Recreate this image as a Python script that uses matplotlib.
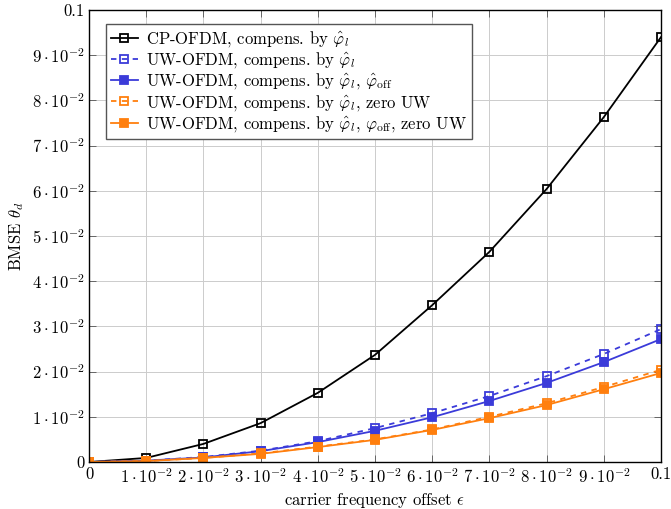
import matplotlib
matplotlib.use("Agg")
import matplotlib.pyplot as plt

plt.rcParams["font.family"] = "serif"
plt.rcParams["font.serif"] = ["cmr10", "DejaVu Serif"]
plt.rcParams["mathtext.fontset"] = "cm"
plt.rcParams["axes.formatter.use_mathtext"] = True

eps = [0.0, 0.01, 0.02, 0.03, 0.04, 0.05, 0.06, 0.07, 0.08, 0.09, 0.1]
cp_ofdm = [0.0, 0.0009, 0.0040, 0.0086, 0.0153, 0.0237, 0.0347, 0.0465, 0.0604, 0.0763, 0.0940]
uw_phi = [0.0, 0.0003, 0.0011, 0.0025, 0.0046, 0.0075, 0.0108, 0.0146, 0.0190, 0.0239, 0.0294]
uw_phi_off = [0.0, 0.0003, 0.0010, 0.0024, 0.0044, 0.0069, 0.0099, 0.0135, 0.0175, 0.0221, 0.0272]
uw_phi_zero = [0.0, 0.0002, 0.0009, 0.0019, 0.0034, 0.0050, 0.0072, 0.0100, 0.0130, 0.0166, 0.0204]
uw_phi_off_zero = [0.0, 0.0002, 0.0009, 0.0018, 0.0033, 0.0049, 0.0071, 0.0097, 0.0126, 0.0161, 0.0197]

labels = [
    r"CP-OFDM, compens. by $\hat{\varphi}_l$",
    r"UW-OFDM, compens. by $\hat{\varphi}_l$",
    r"UW-OFDM, compens. by $\hat{\varphi}_l$, $\hat{\varphi}_{\mathrm{off}}$",
    r"UW-OFDM, compens. by $\hat{\varphi}_l$, zero UW",
    r"UW-OFDM, compens. by $\hat{\varphi}_l$, $\varphi_{\mathrm{off}}$, zero UW",
]
ticks = [0.0, 0.01, 0.02, 0.03, 0.04, 0.05, 0.06, 0.07, 0.08, 0.09, 0.1]
tick_labels = ["0"] + [r"$%d\cdot10^{-2}$" % k for k in range(1, 10)] + ["0.1"]

blue = "#3b3bd9"
orange = "#ff7f0e"

fig = plt.figure(figsize=(6.71, 5.09), dpi=100)
ax = fig.add_axes([89 / 671, 1 - 462 / 509, 572 / 671, 452 / 509])

ms = 5.5
lw = 1.3
ax.plot(eps, cp_ofdm, color="black", lw=lw, marker="s", ms=ms, mfc="none", mew=1.3, label=labels[0])
ax.plot(eps, uw_phi, color=blue, lw=lw, ls=(0, (3, 3)), marker="s", ms=ms, mfc="none", mew=1.3, label=labels[1])
ax.plot(eps, uw_phi_off, color=blue, lw=lw, marker="s", ms=ms, mfc=blue, mew=1.3, label=labels[2])
ax.plot(eps, uw_phi_zero, color=orange, lw=lw, ls=(0, (3, 3)), marker="s", ms=ms, mfc="none", mew=1.3, label=labels[3])
ax.plot(eps, uw_phi_off_zero, color=orange, lw=lw, marker="s", ms=ms, mfc=orange, mew=1.3, label=labels[4])

ax.set_xlim(0, 0.1)
ax.set_ylim(0, 0.1)
ax.set_xticks(ticks)
ax.set_xticklabels(tick_labels)
ax.set_yticks(ticks)
ax.set_yticklabels(tick_labels)
ax.tick_params(direction="in", top=True, right=True, labelsize=12, length=5, width=0.6, colors="#555555", labelcolor="black")
ax.grid(True, color="#cccccc", lw=0.7)
ax.set_axisbelow(True)
for s in ax.spines.values():
    s.set_linewidth(1.0)

ax.set_xlabel(r"carrier frequency offset $\epsilon$", fontsize=12)
ax.set_ylabel(r"BMSE $\theta_d$", fontsize=12)

leg = ax.legend(loc="upper left", bbox_to_anchor=(0.03, 0.969), fontsize=12, fancybox=False,
                edgecolor="#555555", framealpha=1, handlelength=1.6, handletextpad=0.5,
                borderpad=0.3, labelspacing=0.08, borderaxespad=0.0)
leg.get_frame().set_linewidth(1.0)

fig.savefig("out.png", dpi=100)
